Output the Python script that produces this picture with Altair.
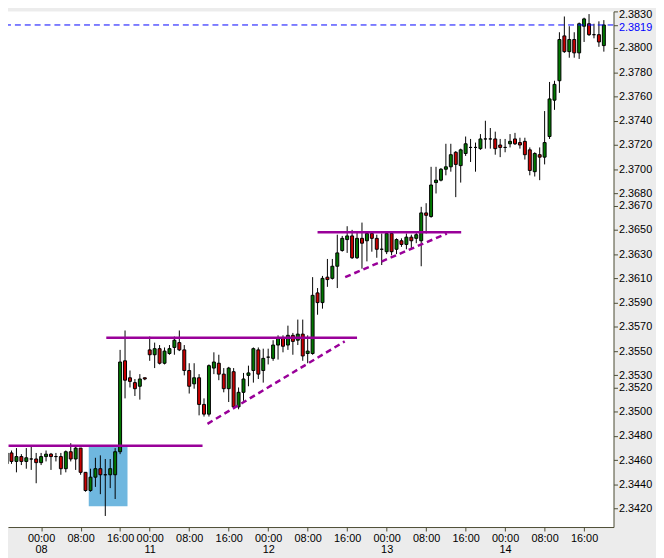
import altair as alt
import pandas as pd

# ---------------- data (hourly candles, index 0 = 08 00:00) ----------------
bar_index = list(range(-7, 115))

opens = [2.3457, 2.3466, 2.3459, 2.3463, 2.3459, 2.3461, 2.3461,
         2.3458, 2.3463, 2.3465, 2.3463, 2.3463, 2.3453, 2.3467, 2.3461, 2.3470, 2.3450,
         2.3435, 2.3446, 2.3453, 2.3448, 2.3448, 2.3448, 2.3467, 2.3542, 2.3528, 2.3524,
         2.3521, 2.3528, 2.3551, 2.3547, 2.3552, 2.3540, 2.3548, 2.3553, 2.3557, 2.3551,
         2.3534, 2.3523, 2.3528, 2.3506, 2.3498, 2.3536, 2.3540, 2.3531, 2.3519, 2.3533,
         2.3504, 2.3516, 2.3530, 2.3534, 2.3551, 2.3534, 2.3545, 2.3544, 2.3555, 2.3561,
         2.3555, 2.3563, 2.3559, 2.3564, 2.3548, 2.3548, 2.3598, 2.3590, 2.3611, 2.3610,
         2.3620, 2.3633, 2.3642, 2.3645, 2.3627, 2.3643, 2.3641, 2.3647, 2.3643, 2.3634,
         2.3632, 2.3647, 2.3634, 2.3641, 2.3638, 2.3644, 2.3643, 2.3641, 2.3664, 2.3661,
         2.3689, 2.3691, 2.3700, 2.3702, 2.3714, 2.3703, 2.3713, 2.3718, 2.3718, 2.3717,
         2.3725, 2.3725, 2.3725, 2.3720, 2.3718, 2.3721, 2.3725, 2.3722, 2.3723, 2.3716,
         2.3698, 2.3712, 2.3710, 2.3727, 2.3757, 2.3773, 2.3810, 2.3797, 2.3807, 2.3796,
         2.3818, 2.3820, 2.3811, 2.3811, 2.3802]

highs = [2.3471, 2.3468, 2.3470, 2.3465, 2.3470, 2.3472, 2.3466,
         2.3466, 2.3468, 2.3466, 2.3466, 2.3466, 2.3468, 2.3474, 2.3471, 2.3470, 2.3450,
         2.3453, 2.3462, 2.3464, 2.3461, 2.3461, 2.3470, 2.3551, 2.3567, 2.3534, 2.3527,
         2.3531, 2.3528, 2.3562, 2.3557, 2.3555, 2.3553, 2.3555, 2.3562, 2.3567, 2.3555,
         2.3540, 2.3540, 2.3531, 2.3511, 2.3539, 2.3549, 2.3547, 2.3536, 2.3537, 2.3536,
         2.3520, 2.3532, 2.3538, 2.3553, 2.3553, 2.3552, 2.3552, 2.3559, 2.3563, 2.3563,
         2.3571, 2.3565, 2.3576, 2.3576, 2.3563, 2.3611, 2.3602, 2.3612, 2.3626, 2.3626,
         2.3646, 2.3645, 2.3653, 2.3650, 2.3649, 2.3656, 2.3649, 2.3649, 2.3646, 2.3647,
         2.3649, 2.3647, 2.3643, 2.3643, 2.3647, 2.3646, 2.3648, 2.3669, 2.3672, 2.3702,
         2.3702, 2.3701, 2.3721, 2.3721, 2.3715, 2.3717, 2.3727, 2.3725, 2.3722, 2.3729,
         2.3740, 2.3734, 2.3731, 2.3725, 2.3725, 2.3729, 2.3730, 2.3726, 2.3726, 2.3718,
         2.3714, 2.3718, 2.3748, 2.3772, 2.3773, 2.3813, 2.3826, 2.3818, 2.3813, 2.3821,
         2.3825, 2.3828, 2.3820, 2.3822, 2.3823]

lows = [2.3454, 2.3457, 2.3450, 2.3456, 2.3453, 2.3452, 2.3441,
        2.3456, 2.3459, 2.3452, 2.3459, 2.3448, 2.3450, 2.3459, 2.3452, 2.3448, 2.3434,
        2.3434, 2.3438, 2.3432, 2.3414, 2.3437, 2.3428, 2.3465, 2.3511, 2.3520, 2.3513,
        2.3510, 2.3526, 2.3542, 2.3536, 2.3539, 2.3539, 2.3547, 2.3547, 2.3550, 2.3530,
        2.3515, 2.3519, 2.3497, 2.3496, 2.3496, 2.3531, 2.3526, 2.3516, 2.3508, 2.3503,
        2.3502, 2.3509, 2.3521, 2.3524, 2.3527, 2.3524, 2.3539, 2.3542, 2.3543, 2.3549,
        2.3551, 2.3547, 2.3555, 2.3542, 2.3540, 2.3547, 2.3580, 2.3585, 2.3603, 2.3609,
        2.3602, 2.3632, 2.3631, 2.3626, 2.3626, 2.3618, 2.3624, 2.3632, 2.3627, 2.3621,
        2.3630, 2.3629, 2.3630, 2.3636, 2.3634, 2.3635, 2.3639, 2.3620, 2.3647, 2.3660,
        2.3680, 2.3690, 2.3695, 2.3698, 2.3677, 2.3689, 2.3711, 2.3706, 2.3698, 2.3716,
        2.3717, 2.3717, 2.3712, 2.3710, 2.3714, 2.3718, 2.3720, 2.3717, 2.3708, 2.3695,
        2.3694, 2.3691, 2.3704, 2.3725, 2.3749, 2.3763, 2.3796, 2.3792, 2.3792, 2.3791,
        2.3805, 2.3810, 2.3808, 2.3801, 2.3797]

closes = [2.3466, 2.3459, 2.3463, 2.3459, 2.3462, 2.3461, 2.3458,
          2.3463, 2.3465, 2.3463, 2.3463, 2.3453, 2.3467, 2.3461, 2.3470, 2.3450, 2.3435,
          2.3446, 2.3453, 2.3448, 2.3448, 2.3453, 2.3467, 2.3541, 2.3526, 2.3525, 2.3519,
          2.3527, 2.3527, 2.3547, 2.3552, 2.3540, 2.3550, 2.3552, 2.3559, 2.3551, 2.3534,
          2.3521, 2.3528, 2.3506, 2.3498, 2.3538, 2.3541, 2.3531, 2.3519, 2.3536, 2.3504,
          2.3516, 2.3527, 2.3532, 2.3552, 2.3531, 2.3544, 2.3545, 2.3555, 2.3561, 2.3554,
          2.3563, 2.3558, 2.3564, 2.3546, 2.3550, 2.3596, 2.3590, 2.3610, 2.3609, 2.3620,
          2.3631, 2.3643, 2.3645, 2.3627, 2.3643, 2.3639, 2.3647, 2.3643, 2.3634, 2.3634,
          2.3647, 2.3632, 2.3642, 2.3638, 2.3644, 2.3641, 2.3646, 2.3664, 2.3662, 2.3687,
          2.3691, 2.3700, 2.3702, 2.3712, 2.3704, 2.3716, 2.3721, 2.3718, 2.3718, 2.3725,
          2.3725, 2.3725, 2.3717, 2.3718, 2.3718, 2.3723, 2.3721, 2.3720, 2.3712, 2.3699,
          2.3713, 2.3710, 2.3722, 2.3758, 2.3770, 2.3807, 2.3797, 2.3807, 2.3796, 2.3820,
          2.3824, 2.3811, 2.3811, 2.3805, 2.3819]

x_tick_index = [0, 8, 16, 22, 30, 38, 46, 54, 62, 70, 78, 86, 94, 102, 110]
x_tick_time = ["00:00", "08:00", "16:00", "00:00", "08:00", "16:00", "00:00", "08:00",
               "16:00", "00:00", "08:00", "16:00", "00:00", "08:00", "16:00"]
x_tick_date = ["08", "", "", "11", "", "", "12", "", "", "13", "", "", "14", "", ""]

y_ticks = [2.3420, 2.3440, 2.3460, 2.3480, 2.3500, 2.3520, 2.3530, 2.3550, 2.3570,
           2.3590, 2.3610, 2.3630, 2.3650, 2.3670, 2.3680, 2.3700, 2.3720, 2.3740,
           2.3760, 2.3780, 2.3800, 2.3819, 2.3830]
last_price = [2.3819]

# annotations (in bar index / price units)
hline_x1 = [-6.6, 13.2, 56.0]
hline_x2 = [32.7, 64.0, 85.1]
hline_y = [2.3472, 2.3561, 2.3648]
trend_x1 = [33.7, 61.6]
trend_y1 = [2.3490, 2.3611]
trend_x2 = [61.5, 82.2]
trend_y2 = [2.3558, 2.3647]
box_x1 = [9.65]
box_x2 = [17.5]
box_y1 = [2.3422]
box_y2 = [2.3471]

# ---------------- chart ----------------
GREEN = "#007800"
RED = "#c80000"
PURPLE = "#990099"
AXIS_C = "#4c4c34"
FONT = "Liberation Sans"

candles = pd.DataFrame({"k": bar_index, "open": opens, "high": highs,
                        "low": lows, "close": closes})
hlines = pd.DataFrame({"x1": hline_x1, "x2": hline_x2, "y": hline_y})
trends = pd.DataFrame({"x1": trend_x1, "x2": trend_x2, "y1": trend_y1, "y2": trend_y2})
box = pd.DataFrame({"x1": box_x1, "x2": box_x2, "y1": box_y1, "y2": box_y2})
price_df = pd.DataFrame({"p": last_price})

parts = []
for k, t, d in zip(x_tick_index, x_tick_time, x_tick_date):
    lab = f"['{t}','{d}']" if d else f"'{t}'"
    parts.append(f"datum.value == {k} ? {lab} : ")
label_expr = "".join(parts) + "''"

x_scale = alt.Scale(domain=[-5.709, 114.96], nice=False, zero=False)
y_scale = alt.Scale(domain=[2.340488, 2.38302], nice=False, zero=False)

x_axis = alt.Axis(values=x_tick_index, labelExpr=label_expr, title=None, grid=False,
                  tickSize=4, labelPadding=2, labelOverlap=False, labelFlush=False,
                  labelBound=False, labelLineHeight=11, labelFont=FONT,
                  labelFontSize=11, labelColor="black", domainColor=AXIS_C,
                  tickColor=AXIS_C, domainWidth=1, tickWidth=1)
y_axis = alt.Axis(orient="right", values=y_ticks, format=".4f", title=None, grid=False,
                  tickSize=4, labelPadding=1, labelOverlap=False, labelFlush=False,
                  labelFont=FONT, labelFontSize=11,
                  labelOffset=alt.ExprRef(
                      expr="datum.value > 2.3825 ? 3 : (abs(datum.value - 2.3819) < 0.00001 ? 2.5 : 0)"),
                  labelColor=alt.ExprRef(
                      expr="abs(datum.value - 2.3819) < 0.00001 ? '#0000ff' : '#000000'"),
                  domainColor=AXIS_C, tickColor=AXIS_C, domainWidth=1, tickWidth=1)

box_layer = alt.Chart(box).mark_rect(color="#6fb7df", clip=True).encode(
    x=alt.X("x1:Q", scale=x_scale, axis=x_axis), x2="x2:Q",
    y=alt.Y("y1:Q", scale=y_scale, axis=y_axis), y2="y2:Q")

wicks = alt.Chart(candles).mark_rule(color="black", strokeWidth=1, clip=True).encode(
    x=alt.X("k:Q", scale=x_scale, axis=x_axis),
    y=alt.Y("low:Q", scale=y_scale, axis=y_axis), y2="high:Q")

bodies = alt.Chart(candles).mark_bar(size=3, stroke="black", strokeWidth=1, clip=True).encode(
    x=alt.X("k:Q", scale=x_scale, axis=x_axis),
    y=alt.Y("open:Q", scale=y_scale, axis=y_axis), y2="close:Q",
    color=alt.condition("datum.close >= datum.open", alt.value(GREEN), alt.value(RED)))

hline_layer = alt.Chart(hlines).mark_rule(color=PURPLE, strokeWidth=2.5, clip=True).encode(
    x=alt.X("x1:Q", scale=x_scale, axis=x_axis), x2="x2:Q",
    y=alt.Y("y:Q", scale=y_scale, axis=y_axis))

trend_layer = alt.Chart(trends).mark_rule(color=PURPLE, strokeWidth=2.5,
                                          strokeDash=[6, 4], clip=True).encode(
    x=alt.X("x1:Q", scale=x_scale, axis=x_axis), x2="x2:Q",
    y=alt.Y("y1:Q", scale=y_scale, axis=y_axis), y2="y2:Q")

price_layer = alt.Chart(price_df).mark_rule(color="#0000ff", strokeWidth=1,
                                            strokeDash=[6, 4], clip=True).encode(
    y=alt.Y("p:Q", scale=y_scale, axis=y_axis))

chart = alt.layer(box_layer, wicks, bodies, hline_layer, trend_layer, price_layer).properties(
    width=613, height=522,
    autosize=alt.AutoSizeParams(type="none"),
    padding={"left": 0, "top": 0, "right": 43, "bottom": 36},
    background="#ececec",
).configure_view(fill="white", stroke=None)

chart.save("out.html", embed_options={"renderer": "svg", "actions": False})
